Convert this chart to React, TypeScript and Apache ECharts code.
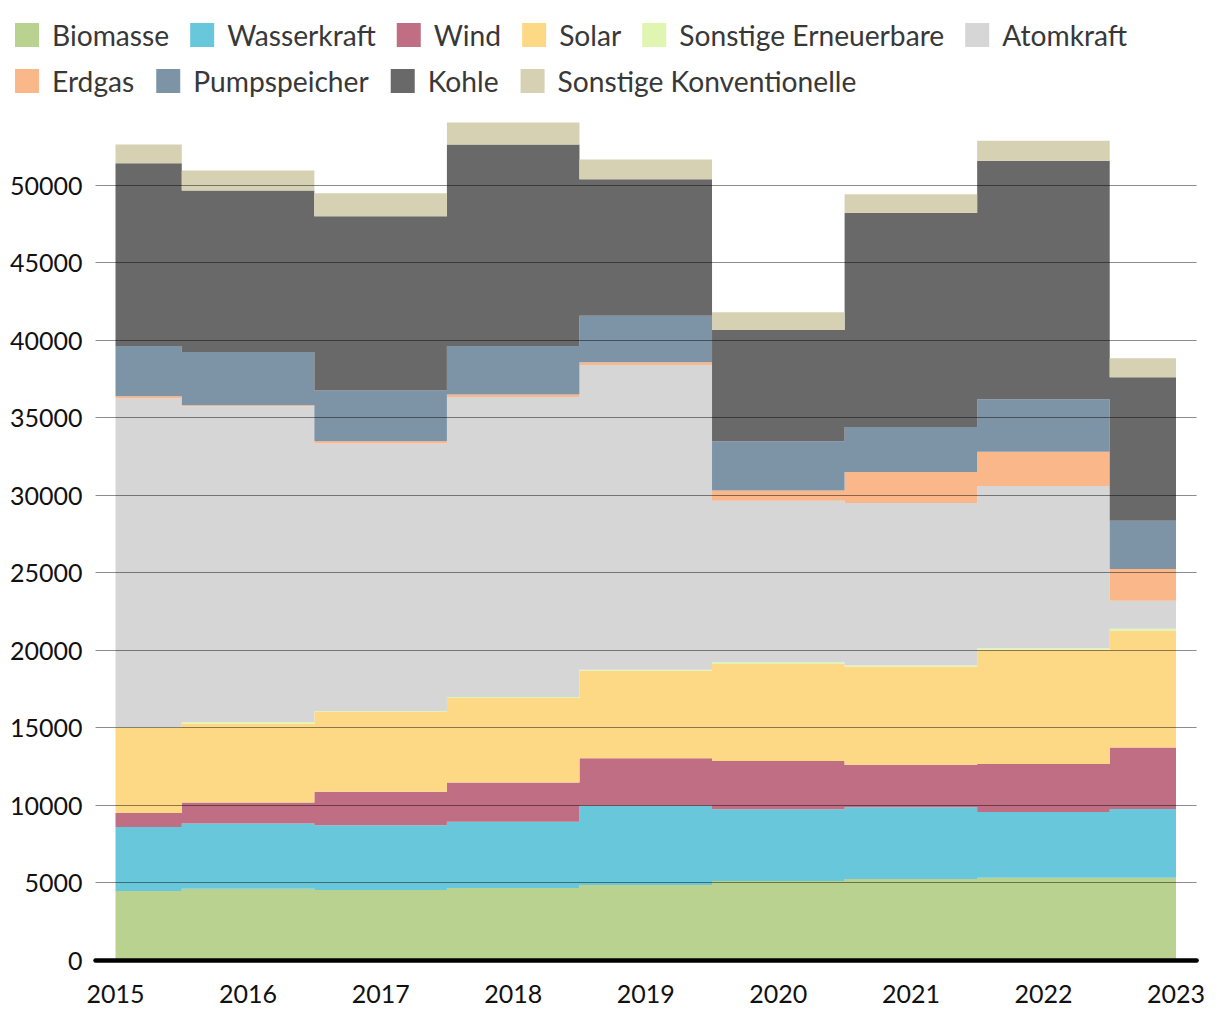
import React, { useEffect, useRef } from "react";
import * as echarts from "echarts";

const years = ["2015", "2016", "2017", "2018", "2019", "2020", "2021", "2022", "2023"];

const biomasse = [4440, 4590, 4510, 4640, 4830, 5080, 5210, 5290, 5290];
const wasserkraft = [4130, 4210, 4170, 4270, 5110, 4640, 4640, 4250, 4440];
const wind = [900, 1350, 2170, 2530, 3060, 3110, 2730, 3090, 3970];
const solar = [5500, 5100, 5140, 5450, 5650, 6250, 6320, 7380, 7530];
const sonstigeErneuerbare = [40, 90, 65, 65, 65, 110, 80, 95, 130];
const atomkraft = [21200, 20380, 17250, 19350, 19660, 10420, 10490, 10460, 1800];
const erdgas = [150, 65, 150, 170, 170, 665, 2000, 2220, 2060];
const pumpspeicher = [3245, 3420, 3270, 3120, 3000, 3180, 2910, 3380, 3110];
const kohle = [11780, 10430, 11250, 13000, 8820, 7170, 13810, 15390, 9250];
const sonstigeKonventionelle = [1220, 1290, 1480, 1420, 1270, 1160, 1200, 1290, 1225];

const seriesNames = [
  "Biomasse",
  "Wasserkraft",
  "Wind",
  "Solar",
  "Sonstige Erneuerbare",
  "Atomkraft",
  "Erdgas",
  "Pumpspeicher",
  "Kohle",
  "Sonstige Konventionelle",
];
const seriesValues = [
  biomasse,
  wasserkraft,
  wind,
  solar,
  sonstigeErneuerbare,
  atomkraft,
  erdgas,
  pumpspeicher,
  kohle,
  sonstigeKonventionelle,
];
const seriesColors = [
  "#b9d28f",
  "#69c7db",
  "#bf6e84",
  "#fed985",
  "#e0f5b1",
  "#d6d6d6",
  "#f9b78a",
  "#7d94a6",
  "#696969",
  "#d6d1b3",
];

export default function App() {
  const ref = useRef<HTMLDivElement>(null);

  useEffect(() => {
    if (!ref.current) return;
    const chart = echarts.init(ref.current, null, { renderer: "svg" });
    const font = "Lato";
    const legendCommon = {
      left: 10,
      itemWidth: 24,
      itemHeight: 24,
      itemGap: 21,
      icon: "rect",
      selectedMode: false,
      textStyle: {
        fontFamily: font,
        fontSize: 28.2,
        color: "#383838",
        padding: [0, 0, 0, 8],
      },
    };
    const top = 107.3;
    const bottom = 60.2;
    const option = {
      animation: false,
      backgroundColor: "#ffffff",
      color: seriesColors,
      legend: [
        { ...legendCommon, top: 16, data: seriesNames.slice(0, 6) },
        { ...legendCommon, top: 62, itemGap: 22, data: seriesNames.slice(6) },
      ],
      grid: [
        { left: 95.5, right: 23.4, top, bottom },
        { left: 115.5, right: 44, top, bottom },
      ],
      xAxis: [
        {
          gridIndex: 0,
          type: "value",
          min: 0,
          max: 1,
          z: 6,
          axisLine: { show: true, lineStyle: { color: "#000000", width: 4.5 } },
          axisTick: { show: false },
          splitLine: { show: false },
          axisLabel: { show: false },
        },
        {
          gridIndex: 1,
          type: "category",
          data: years,
          boundaryGap: false,
          axisLine: { show: false },
          axisTick: { show: false },
          splitLine: { show: false },
          axisLabel: {
            fontFamily: font,
            fontSize: 25,
            color: "#111111",
            margin: 21,
            interval: 0,
          },
        },
      ],
      yAxis: [
        {
          gridIndex: 0,
          type: "value",
          min: 0,
          max: 55000,
          interval: 5000,
          z: 5,
          axisLine: { show: false },
          axisTick: { show: false },
          axisLabel: {
            showMaxLabel: false,
            fontFamily: font,
            fontSize: 25,
            color: "#111111",
            margin: 13,
            formatter: (v: number) => String(v),
          },
          splitLine: {
            show: true,
            showMaxLine: false,
            showMinLine: false,
            lineStyle: { color: "rgba(0,0,0,0.45)", width: 1 },
          },
        },
        {
          gridIndex: 1,
          type: "value",
          min: 0,
          max: 55000,
          show: false,
        },
      ],
      series: seriesNames.map((name, i) => ({
        name,
        type: "line",
        xAxisIndex: 1,
        yAxisIndex: 1,
        stack: "total",
        step: "middle",
        symbol: "none",
        showSymbol: false,
        lineStyle: { width: 0, color: seriesColors[i] },
        itemStyle: { color: seriesColors[i] },
        areaStyle: { color: seriesColors[i], opacity: 1 },
        emphasis: { disabled: true },
        data: seriesValues[i],
      })),
    };
    chart.setOption(option as any);
    return () => chart.dispose();
  }, []);

  return (
    <div
      ref={ref}
      style={{ position: "absolute", left: 0, top: 0, width: 1220, height: 1020 }}
    />
  );
}
